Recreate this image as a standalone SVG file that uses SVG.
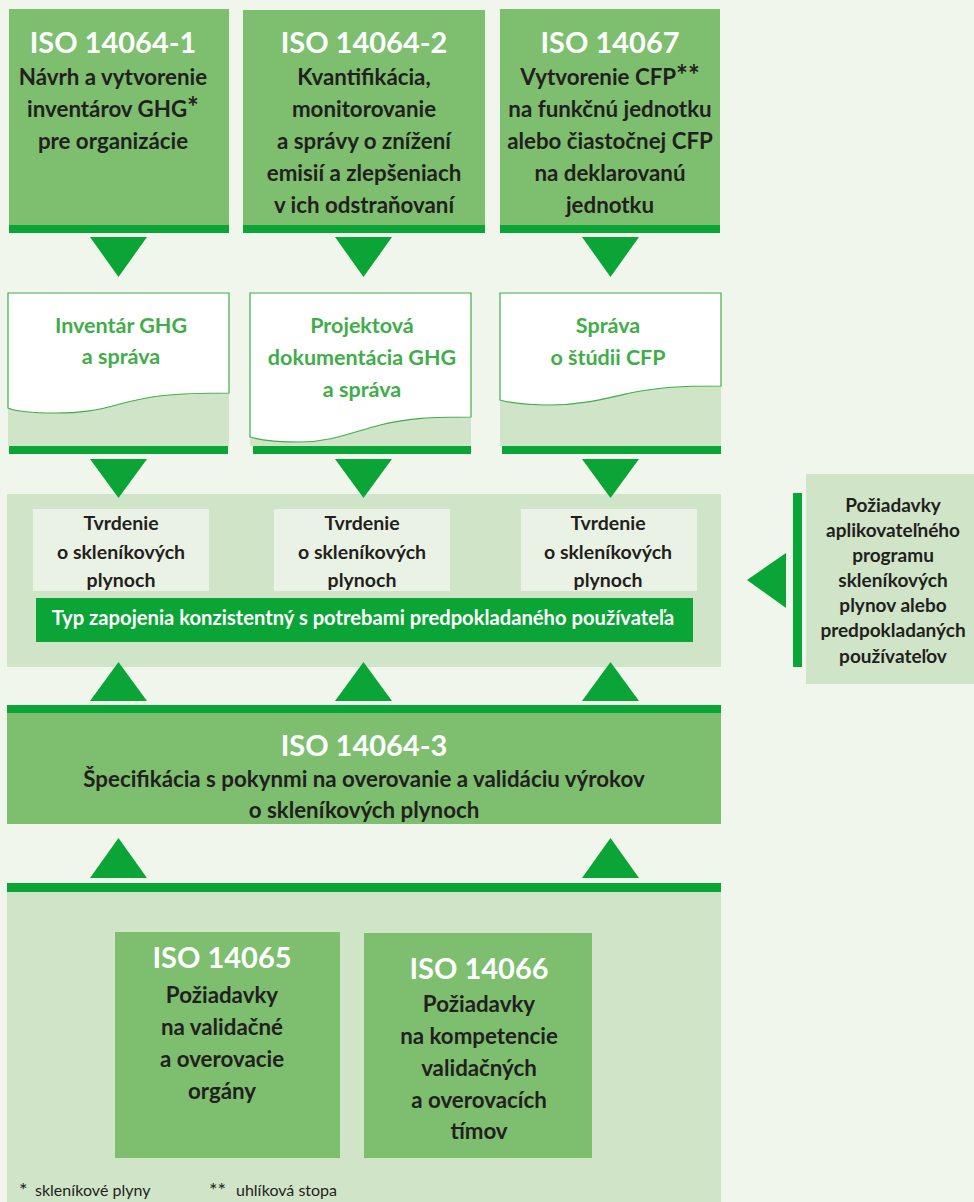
<svg xmlns="http://www.w3.org/2000/svg" width="974" height="1202" viewBox="0 0 974 1202">
<style>
.mid{fill:#7dbe6f}
.dark{fill:#0ba537}
.light{fill:#d0e4c7}
.pale{fill:#e9f2e4}
.doc{fill:#ffffff;stroke:#3fae49;stroke-width:1.2}
text{font-family:Lato,"Liberation Sans",sans-serif;font-weight:bold;text-anchor:middle}
.t{fill:#ffffff;font-size:29px}
.b{fill:#231f20;font-size:22.3px}
.g{fill:#3fae49;font-size:21.5px}
.s{fill:#231f20;font-size:19.5px}
.r{fill:#231f20;font-size:19px}
.w{fill:#ffffff;font-size:20.2px}
.f{fill:#231f20;font-size:16px;font-weight:normal;text-anchor:start}
.ast{font-size:1.25em}
.arr{fill:#0ba537}
</style>
<rect x="0" y="0" width="974" height="1202" fill="#f0f6ec"/>

<g id="iso14064-1">
<rect class="mid" x="9" y="9" width="220" height="224"/>
<rect class="dark" x="9" y="225" width="220" height="8"/>
<text class="t" x="113" y="53">ISO 14064-1</text>
<text class="b" x="113" y="85">Návrh a vytvorenie</text>
<text class="b" x="113" y="117">inventárov GHG<tspan class="ast">*</tspan></text>
<text class="b" x="113" y="149">pre organizácie</text>
</g>

<g id="iso14064-2">
<rect class="mid" x="243" y="10" width="242" height="223"/>
<rect class="dark" x="243" y="225" width="242" height="8"/>
<text class="t" x="364" y="53">ISO 14064-2</text>
<text class="b" x="364" y="85">Kvantifikácia,</text>
<text class="b" x="364" y="117">monitorovanie</text>
<text class="b" x="364" y="149">a správy o znížení</text>
<text class="b" x="364" y="181">emisií a zlepšeniach</text>
<text class="b" x="364" y="213">v ich odstraňovaní</text>
</g>

<g id="iso14067">
<rect class="mid" x="500" y="9" width="220" height="224"/>
<rect class="dark" x="500" y="225" width="220" height="8"/>
<text class="t" x="610" y="53">ISO 14067</text>
<text class="b" x="610" y="85">Vytvorenie CFP<tspan class="ast">**</tspan></text>
<text class="b" x="610" y="117">na funkčnú jednotku</text>
<text class="b" x="610" y="149">alebo čiastočnej CFP</text>
<text class="b" x="610" y="181">na deklarovanú</text>
<text class="b" x="610" y="213">jednotku</text>
</g>

<g id="doc1">
<rect class="light" x="8" y="293" width="221" height="153"/>
<path class="doc" d="M8,293 H229 V393 C170,393 150,396 120,404 C95,411 80,413 55,413 C30,413 15,411 8,408 Z"/>
<rect class="dark" x="9" y="446" width="219" height="8"/>
<text class="g" x="121" y="333">Inventár GHG</text>
<text class="g" x="121" y="364">a správa</text>
</g>

<g id="doc2">
<rect class="light" x="250" y="293" width="221" height="153"/>
<path class="doc" d="M250,293 H471 V417 C430,417 410,418 380,425 C350,433 330,442 300,442 C275,442 260,440 250,437 Z"/>
<rect class="dark" x="253" y="446" width="218" height="8"/>
<text class="g" x="362" y="333">Projektová</text>
<text class="g" x="362" y="365">dokumentácia GHG</text>
<text class="g" x="362" y="397">a správa</text>
</g>

<g id="doc3">
<rect class="light" x="500" y="293" width="221" height="153"/>
<path class="doc" d="M500,293 H721 V386 C680,386 660,387 630,393 C600,400 580,405 550,405 C525,405 510,403 500,400 Z"/>
<rect class="dark" x="502" y="446" width="219" height="8"/>
<text class="g" x="608" y="333">Správa</text>
<text class="g" x="608" y="365">o štúdii CFP</text>
</g>

<g id="claims">
<rect class="light" x="7" y="494" width="714" height="173"/>
<rect class="pale" x="33" y="509" width="176" height="82"/>
<rect class="pale" x="274" y="509" width="176" height="82"/>
<rect class="pale" x="521" y="509" width="176" height="82"/>
<text class="s" x="121" y="530">Tvrdenie</text>
<text class="s" x="121" y="559">o skleníkových</text>
<text class="s" x="121" y="587">plynoch</text>
<text class="s" x="362" y="530">Tvrdenie</text>
<text class="s" x="362" y="559">o skleníkových</text>
<text class="s" x="362" y="587">plynoch</text>
<text class="s" x="608" y="530">Tvrdenie</text>
<text class="s" x="608" y="559">o skleníkových</text>
<text class="s" x="608" y="587">plynoch</text>
<rect class="dark" x="36" y="598" width="657" height="44"/>
<text class="w" x="363" y="625">Typ zapojenia konzistentný s potrebami predpokladaného používateľa</text>
</g>

<g id="requirements">
<rect class="light" x="806" y="474" width="168" height="210"/>
<rect class="dark" x="793" y="493" width="9" height="174"/>
<text class="r" x="893" y="512">Požiadavky</text>
<text class="r" x="893" y="537">aplikovateľného</text>
<text class="r" x="893" y="562">programu</text>
<text class="r" x="893" y="587">skleníkových</text>
<text class="r" x="893" y="612">plynov alebo</text>
<text class="r" x="893" y="637">predpokladaných</text>
<text class="r" x="893" y="663">používateľov</text>
</g>

<g id="iso14064-3">
<rect class="mid" x="7" y="705" width="714" height="119"/>
<rect class="dark" x="7" y="705" width="714" height="8"/>
<text class="t" x="364" y="756">ISO 14064-3</text>
<text class="b" x="364" y="787">Špecifikácia s pokynmi na overovanie a validáciu výrokov</text>
<text class="b" x="364" y="818">o skleníkových plynoch</text>
</g>

<g id="bottom">
<rect class="light" x="7" y="883" width="714" height="319"/>
<rect class="dark" x="7" y="883" width="714" height="9"/>
</g>

<g id="iso14065">
<rect class="mid" x="115" y="932" width="225" height="226"/>
<text class="t" x="222" y="968">ISO 14065</text>
<text class="b" x="222" y="1003">Požiadavky</text>
<text class="b" x="222" y="1035">na validačné</text>
<text class="b" x="222" y="1067">a overovacie</text>
<text class="b" x="222" y="1099">orgány</text>
</g>

<g id="iso14066">
<rect class="mid" x="364" y="933" width="228" height="225"/>
<text class="t" x="479" y="979">ISO 14066</text>
<text class="b" x="479" y="1012">Požiadavky</text>
<text class="b" x="479" y="1044">na kompetencie</text>
<text class="b" x="479" y="1076">validačných</text>
<text class="b" x="479" y="1108">a overovacích</text>
<text class="b" x="479" y="1139">tímov</text>
</g>

<g id="footnotes">
<text class="f" x="19" y="1197"><tspan class="ast">*</tspan></text>
<text class="f" x="35" y="1196">skleníkové plyny</text>
<text class="f" x="209" y="1197"><tspan class="ast">**</tspan></text>
<text class="f" x="236" y="1196">uhlíková stopa</text>
</g>

<g id="connectors">
<polygon class="arr" points="90,237 147,237 118.5,277"/>
<polygon class="arr" points="335,237 392,237 363.5,277"/>
<polygon class="arr" points="582,237 639,237 610.5,277"/>
<polygon class="arr" points="90,459 147,459 118.5,498"/>
<polygon class="arr" points="335,459 392,459 363.5,498"/>
<polygon class="arr" points="582,459 639,459 610.5,498"/>
<polygon class="arr" points="747,580 786,553 786,608"/>
<polygon class="arr" points="90,701 147,701 118.5,662"/>
<polygon class="arr" points="335,701 392,701 363.5,662"/>
<polygon class="arr" points="582,701 639,701 610.5,662"/>
<polygon class="arr" points="90,878 147,878 118.5,838"/>
<polygon class="arr" points="582,878 639,878 610.5,838"/>
</g>
</svg>
